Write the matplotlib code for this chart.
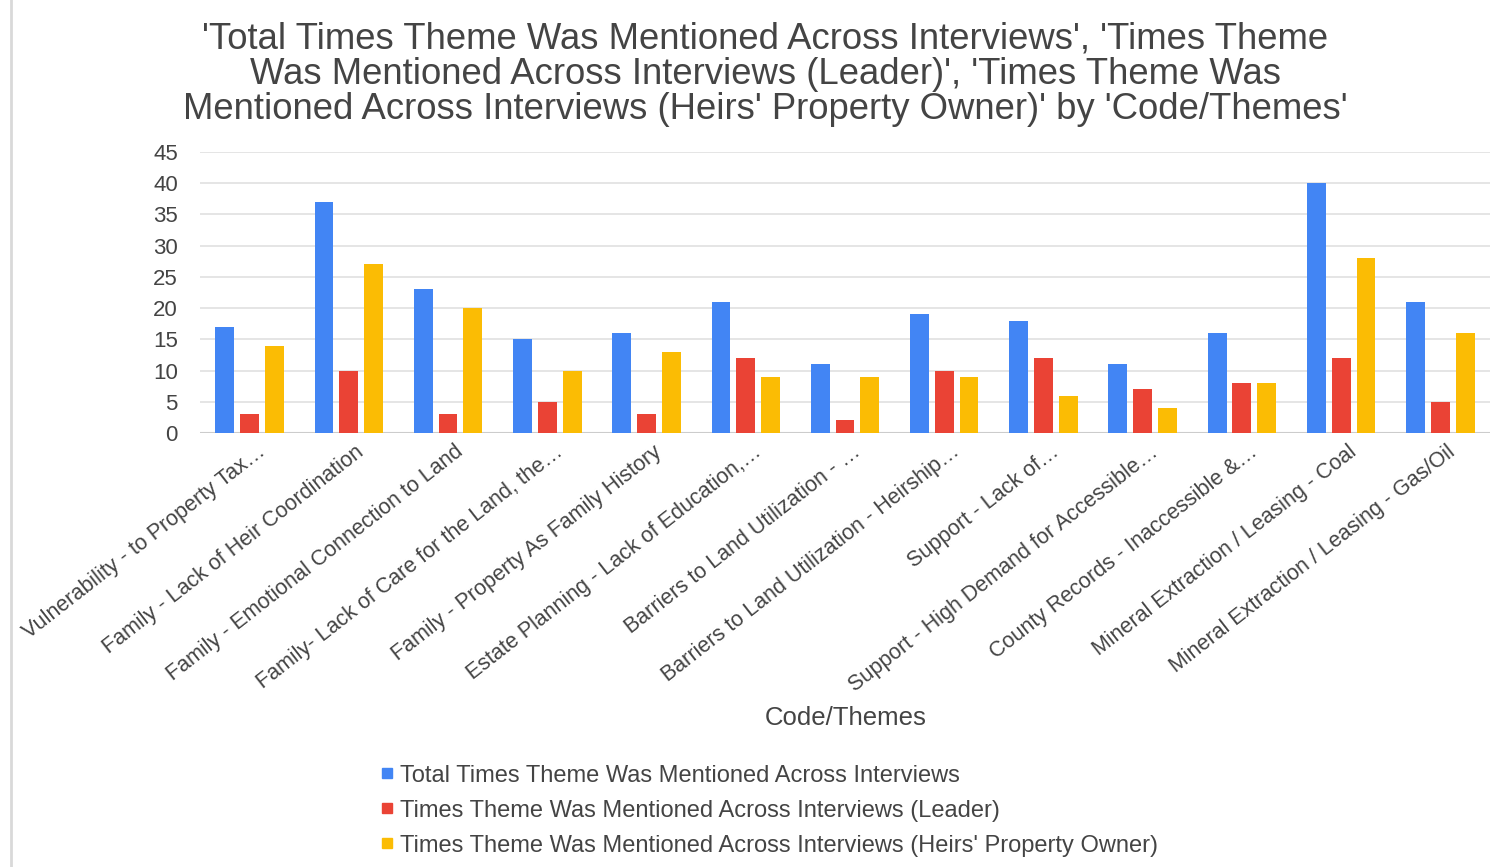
import numpy as np
import matplotlib
matplotlib.use("Agg")
import matplotlib.pyplot as plt
from matplotlib.lines import Line2D

# 데이터
categories = [
    "Vulnerability - to Property Tax\u2026",
    "Family - Lack of Heir Coordination",
    "Family - Emotional Connection to Land",
    "Family- Lack of Care for the Land, the\u2026",
    "Family - Property As Family History",
    "Estate Planning - Lack of Education,\u2026",
    "Barriers to Land Utilization - \u2026",
    "Barriers to Land Utilization - Heirship\u2026",
    "Support - Lack of\u2026",
    "Support - High Demand for Accessible\u2026",
    "County Records - Inaccessible &\u2026",
    "Mineral Extraction / Leasing - Coal",
    "Mineral Extraction / Leasing - Gas/Oil",
]
total_vals = [17, 37, 23, 15, 16, 21, 11, 19, 18, 11, 16, 40, 21]
leader_vals = [3, 10, 3, 5, 3, 12, 2, 10, 12, 7, 8, 12, 5]
owner_vals = [14, 27, 20, 10, 13, 9, 9, 9, 6, 4, 8, 28, 16]
series_names = [
    "Total Times Theme Was Mentioned Across Interviews",
    "Times Theme Was Mentioned Across Interviews (Leader)",
    "Times Theme Was Mentioned Across Interviews (Heirs' Property Owner)",
]
colors = ["#4285F4", "#EA4335", "#FBBC04"]
text_col = "#444444"

plt.rcParams["font.family"] = ["Liberation Sans", "DejaVu Sans"]

fig = plt.figure(figsize=(15.07, 8.67), dpi=100)
ax = fig.add_axes([0.1327, 0.5006, 0.856, 0.3241])

x = np.arange(len(categories))
w = 0.19
off = 0.25
for i, vals in enumerate([total_vals, leader_vals, owner_vals]):
    ax.bar(x + (i - 1) * off, vals, width=w, color=colors[i], zorder=3)

ax.set_xlim(-0.5, len(categories) - 0.5)
ax.set_ylim(0, 45)
ax.set_yticks(range(0, 46, 5))
ax.grid(axis="y", color="#e0e0e0", linewidth=1.2, zorder=0)
ax.axhline(0, color="#cccccc", linewidth=1.5, zorder=2)
for s in ax.spines.values():
    s.set_visible(False)
ax.tick_params(axis="both", length=0, colors=text_col)
ax.tick_params(axis="y", labelsize=16, pad=16)
ax.set_xticks(x + 0.13)
ax.set_xticklabels(categories, rotation=38, ha="right", va="center",
                   rotation_mode="anchor", fontsize=15.5, color=text_col)
ax.tick_params(axis="x", pad=12)

fig.text(0.561, 0.172, "Code/Themes", ha="center", va="center", fontsize=18.5, color=text_col)

fig.suptitle("'Total Times Theme Was Mentioned Across Interviews', 'Times Theme\n"
             "Was Mentioned Across Interviews (Leader)', 'Times Theme Was\n"
             "Mentioned Across Interviews (Heirs' Property Owner)' by 'Code/Themes'",
             x=0.508, y=0.975, fontsize=26.3, color=text_col, linespacing=1.0)

handles = [Line2D([], [], marker="s", linestyle="none", markersize=7.5, color=c) for c in colors]
fig.legend(handles, series_names, loc="upper left", bbox_to_anchor=(0.235, 0.129),
           frameon=False, fontsize=17, labelcolor=text_col, handletextpad=-0.45,
           labelspacing=0.55, borderaxespad=0, bbox_transform=fig.transFigure)

fig.add_artist(Line2D([0.007, 0.007], [0, 1], color="#d9d9d9", linewidth=2,
                      transform=fig.transFigure))

fig.savefig("out.png", dpi=100, facecolor="white")
